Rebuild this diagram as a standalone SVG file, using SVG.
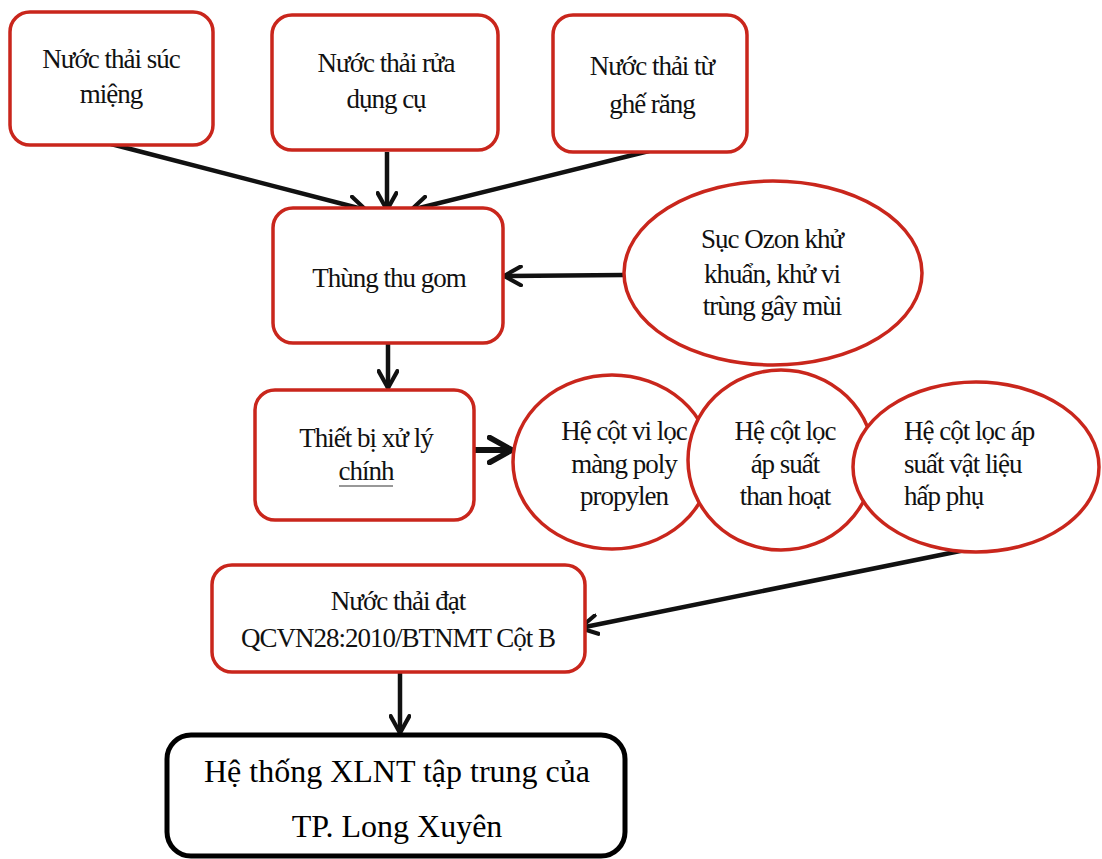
<svg xmlns="http://www.w3.org/2000/svg" width="1102" height="859" viewBox="0 0 1102 859">
<defs>
<marker id="ah" viewBox="0 0 12 12" refX="10" refY="6" markerWidth="5" markerHeight="5" orient="auto" markerUnits="strokeWidth">
<path d="M1,1 L10,6 L1,11" fill="none" stroke="#111" stroke-width="2.2" stroke-linecap="round" stroke-linejoin="round"/>
</marker>
</defs>
<style>
.box{fill:#fff;stroke:#c9261c;stroke-width:3.5}
.fin{fill:#fff;stroke:#000;stroke-width:5}
.t{font-family:"Liberation Serif","Times New Roman",serif;font-size:27px;letter-spacing:-1px;fill:#111;text-anchor:middle}
.tl{text-anchor:start}
.big{font-family:"Liberation Serif","Times New Roman",serif;font-size:32px;fill:#000;text-anchor:middle}
.c{stroke:#111;stroke-width:4.5;fill:none;marker-end:url(#ah)}
</style>
<rect width="1102" height="859" fill="#fff"/>
<g id="connectors">
<line class="c" x1="111" y1="144" x2="366" y2="210"/>
<line class="c" x1="387" y1="152" x2="387" y2="210"/>
<line class="c" x1="649" y1="151" x2="411" y2="210"/>
<line class="c" x1="624" y1="275" x2="504" y2="276"/>
<line class="c" x1="388" y1="343" x2="388" y2="388"/>
<line class="c" x1="474" y1="450" x2="512" y2="450" style="stroke-width:6"/>
<line class="c" x1="975" y1="548" x2="580" y2="628"/>
<line class="c" x1="400" y1="672" x2="400" y2="733"/>
</g>
<g id="n1"><rect class="box" x="10" y="12" width="203" height="133" rx="20"/>
<text class="t" x="111" y="68">Nước thải súc</text><text class="t" x="111" y="103">miệng</text></g>
<g id="n2"><rect class="box" x="272" y="15" width="226" height="135" rx="20"/>
<text class="t" x="386" y="72">Nước thải rửa</text><text class="t" x="386" y="108">dụng cụ</text></g>
<g id="n3"><rect class="box" x="553" y="15" width="194" height="137" rx="20"/>
<text class="t" x="652" y="75">Nước thải từ</text><text class="t" x="652" y="113">ghế răng</text></g>
<g id="n4"><rect class="box" x="273" y="208" width="230" height="135" rx="20"/>
<text class="t" x="389" y="287">Thùng thu gom</text></g>
<g id="n5"><ellipse class="box" cx="773" cy="273" rx="149" ry="92"/>
<text class="t" x="772" y="248">Sục Ozon khử</text><text class="t" x="772" y="283">khuẩn, khử vi</text><text class="t" x="772" y="315">trùng gây mùi</text></g>
<g id="n6"><rect class="box" x="255" y="390" width="219" height="130" rx="20"/>
<text class="t" x="366" y="447">Thiết bị xử lý</text><text class="t" x="366" y="480">chính</text>
<line x1="339" y1="486" x2="393" y2="486" stroke="#333" stroke-width="1.2"/></g>
<g id="n7"><ellipse class="box" cx="612" cy="462" rx="99" ry="87"/>
<text class="t" x="624" y="440">Hệ cột vi lọc</text><text class="t" x="624" y="473">màng poly</text><text class="t" x="624" y="505">propylen</text></g>
<g id="n8"><ellipse class="box" cx="781" cy="460" rx="93" ry="90"/>
<text class="t" x="785" y="440">Hệ cột lọc</text><text class="t" x="785" y="473">áp suất</text><text class="t" x="785" y="505">than hoạt</text></g>
<g id="n9"><ellipse class="box" cx="976" cy="467" rx="123" ry="85"/>
<text class="t tl" x="904" y="440">Hệ cột lọc áp</text><text class="t tl" x="904" y="473">suất vật liệu</text><text class="t tl" x="904" y="505">hấp phụ</text></g>
<g id="n10"><rect class="box" x="212" y="565" width="373" height="107" rx="20"/>
<text class="t" x="398" y="610">Nước thải đạt</text><text class="t" x="398" y="647">QCVN28:2010/BTNMT Cột B</text></g>
<g id="n11"><rect class="fin" x="167" y="735" width="458" height="121" rx="24"/>
<text class="big" x="397" y="782">Hệ thống XLNT tập trung của</text><text class="big" x="397" y="837">TP. Long Xuyên</text></g>
</svg>
